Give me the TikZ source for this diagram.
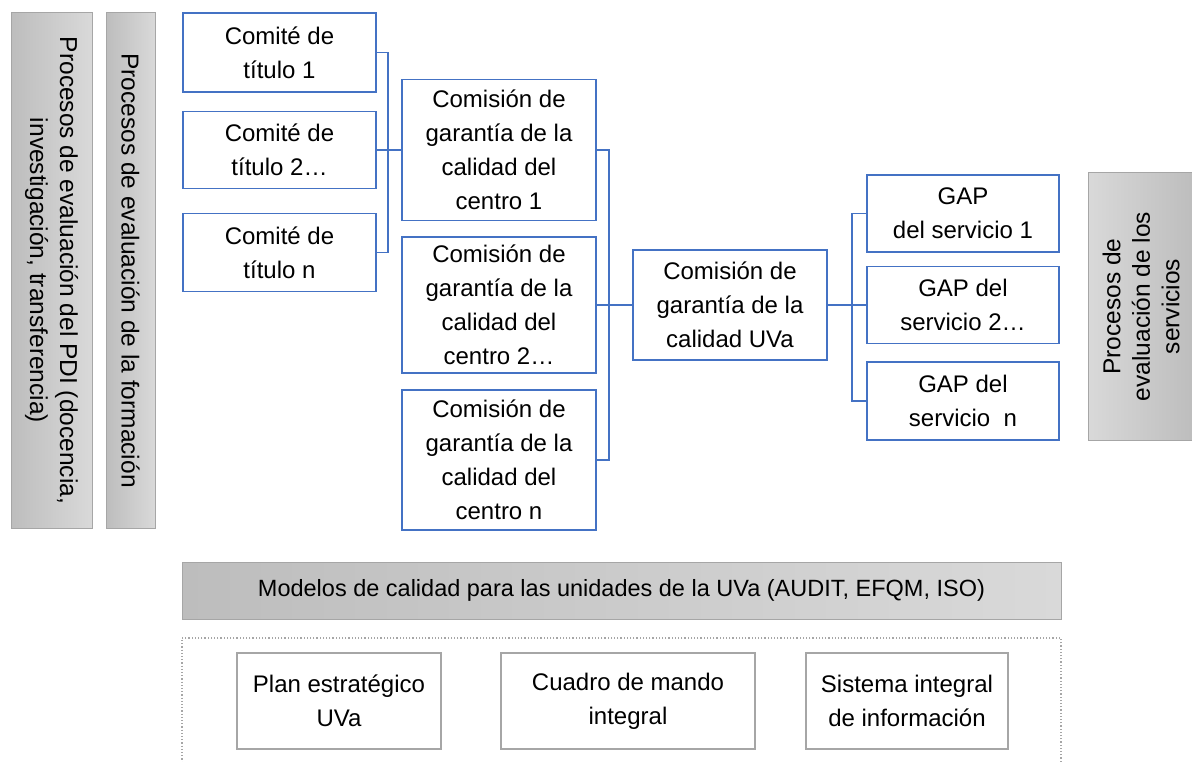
\documentclass[tikz,border=0pt]{standalone}
\usepackage{fontspec}
\setmainfont{Liberation Sans}
\definecolor{boxblue}{HTML}{4472C4}
\definecolor{gdark}{HTML}{BDBDBD}
\definecolor{glight}{HTML}{D9D9D9}
\definecolor{gborder}{HTML}{A6A6A6}
\begin{document}
\begin{tikzpicture}[x=1pt,y=-1pt,
  bbox/.style={draw=boxblue, line width=1.8pt, fill=white, align=center, inner sep=0pt,
    font=\fontsize{24}{34}\selectfont},
  conn/.style={draw=boxblue, line width=1.2pt},
  bartext/.style={font=\fontsize{24.5}{30}\selectfont, align=center, inner sep=0pt},
  gbar/.style={draw=gborder, line width=1pt, inner sep=0pt},
  gbox/.style={draw=gborder, line width=1.6pt, fill=white, align=center, inner sep=0pt,
    font=\fontsize{24}{34}\selectfont, minimum height=96}
]
\useasboundingbox (0,0) rectangle (1192,762);
\begin{scope}
\clip (0,0) rectangle (1192,762);
% left gray bars
\node[gbar, minimum width=81, minimum height=515, left color=gdark, right color=glight] (b1) at (51.5,270.5) {};
\node[bartext, rotate=-90] (b1t) at (b1.center)
  {Procesos de evaluación del PDI (docencia,\\investigación, transferencia)};
\node[gbar, minimum width=49, minimum height=515, left color=gdark, right color=glight] (b2) at (130.5,270.5) {};
\node[bartext, rotate=-90] (b2t) at (b2.center) {Procesos de evaluación de la formación};
% right gray bar
\node[gbar, minimum width=106, minimum height=267, left color=glight, right color=gdark] (b3) at (1141,306.5) {};
\node[bartext, rotate=90, font=\fontsize{24.5}{29.5}\selectfont] (b3t) at (b3.center)
  {Procesos de\\evaluación de los\\servicios};

% Comite boxes
\node[bbox, minimum width=193, minimum height=79] (t1) at (279.5,52.5) {Comité de\\título 1};
\node[bbox, minimum width=193, minimum height=77] (t2) at (279.5,150) {Comité de\\título 2…};
\node[bbox, minimum width=193, minimum height=78] (t3) at (279.5,252.5) {Comité de\\título n};

% Centro boxes
\node[bbox, minimum width=194, minimum height=141] (k1) at (499,150) {Comisión de\\garantía de la\\calidad del\\centro 1};
\node[bbox, minimum width=194, minimum height=136] (k2) at (499,305) {Comisión de\\garantía de la\\calidad del\\centro 2…};
\node[bbox, minimum width=194, minimum height=140] (k3) at (499,460) {Comisión de\\garantía de la\\calidad del\\centro n};

% UVa
\node[bbox, minimum width=194, minimum height=110] (u) at (730,305) {Comisión de\\garantía de la\\calidad UVa};

% GAP
\node[bbox, minimum width=192, minimum height=77] (g1) at (963,213.5) {GAP\\del servicio 1};
\node[bbox, minimum width=192, minimum height=77] (g2) at (963,305) {GAP del\\servicio 2…};
\node[bbox, minimum width=192, minimum height=78] (g3) at (963,401) {GAP del\\servicio~~n};

% connectors
\coordinate (j1) at (388,150);
\draw[conn] (t1.east) -| (j1) |- (t3.east);
\draw[conn] (t2.east) -- (k1.west);
\coordinate (j2) at (609,305);
\draw[conn] (k1.east) -| (j2) |- (k3.east);
\draw[conn] (k2.east) -- (u.west);
\coordinate (j3) at (852,305);
\draw[conn] (g1.west) -| (j3) |- (g3.west);
\draw[conn] (u.east) -- (g2.west);

% Modelos bar
\node[gbar, minimum width=879, minimum height=57,
  left color=gdark, right color=glight, font=\fontsize{23.5}{30}\selectfont] (m) at (621.5,590.5)
  {Modelos de calidad para las unidades de la UVa (AUDIT, EFQM, ISO)};

% dotted frame
\node[draw=gborder, line width=1.2pt, dotted, minimum width=879, minimum height=160, inner sep=0pt] (f) at (621.5,718) {};

% bottom boxes
\node[gbox, minimum width=204] (p1) at (339,701) {Plan estratégico\\UVa};
\node[gbox, minimum width=254] (p2) at (628,701) {Cuadro de mando\\integral};
\node[gbox, minimum width=202] (p3) at (907,701) {Sistema integral\\de información};
\end{scope}
\end{tikzpicture}
\end{document}
